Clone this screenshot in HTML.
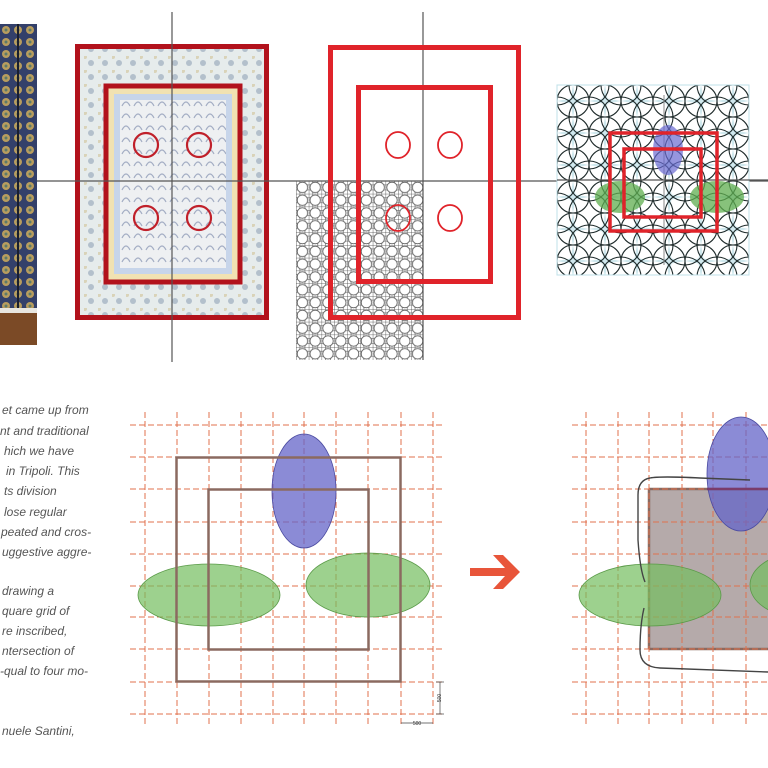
<!DOCTYPE html>
<html><head><meta charset="utf-8"><style>
html,body{margin:0;padding:0;background:#fff;width:768px;height:768px;overflow:hidden}
svg{display:block}
.t{font-family:"Liberation Sans",sans-serif;font-style:italic;font-size:12px;fill:#555}
</style></head><body>
<svg width="768" height="768" viewBox="0 0 768 768" xmlns="http://www.w3.org/2000/svg">
<defs>
<pattern id="lat" x="296" y="181" width="12.8" height="12.8" patternUnits="userSpaceOnUse">
<rect width="12.8" height="12.8" fill="#fff"/>
<path d="M0 0H12.8M0 0V12.8" stroke="#444" stroke-width="0.8"/>
<circle cx="6.4" cy="6.4" r="5.2" fill="none" stroke="#555" stroke-width="0.8"/>
<circle cx="0" cy="0" r="4" fill="none" stroke="#666" stroke-width="0.6"/>
<circle cx="12.8" cy="0" r="4" fill="none" stroke="#666" stroke-width="0.6"/>
<circle cx="0" cy="12.8" r="4" fill="none" stroke="#666" stroke-width="0.6"/>
<circle cx="12.8" cy="12.8" r="4" fill="none" stroke="#666" stroke-width="0.6"/>
</pattern>
<pattern id="circ" x="557" y="85" width="32" height="32" patternUnits="userSpaceOnUse">
<rect width="32" height="32" fill="#fff"/>
<path d="M16 0L19 16L16 32L13 16Z M0 16L16 13L32 16L16 19Z" fill="#cfe8ee"/>
<circle cx="16" cy="16" r="16" fill="none" stroke="#1e2a2a" stroke-width="1.1"/>
<circle cx="0" cy="0" r="20" fill="none" stroke="#1e2a2a" stroke-width="1.1"/>
<circle cx="32" cy="0" r="20" fill="none" stroke="#1e2a2a" stroke-width="1.1"/>
<circle cx="0" cy="32" r="20" fill="none" stroke="#1e2a2a" stroke-width="1.1"/>
<circle cx="32" cy="32" r="20" fill="none" stroke="#1e2a2a" stroke-width="1.1"/>
</pattern>
<pattern id="tile" x="0" y="0" width="14" height="14" patternUnits="userSpaceOnUse">
<rect width="14" height="14" fill="#e6ecec"/>
<circle cx="7" cy="7" r="3" fill="#b3c0cc"/>
<circle cx="1" cy="1" r="2" fill="#d9d3b8"/>
</pattern>
<pattern id="tile2" x="0" y="0" width="12" height="12" patternUnits="userSpaceOnUse">
<rect width="12" height="12" fill="#eef0f2"/>
<path d="M2 10Q6 2 10 10" fill="none" stroke="#a4aec4" stroke-width="1.2"/>
</pattern>
<pattern id="photo" x="0" y="24" width="12" height="12" patternUnits="userSpaceOnUse">
<rect width="12" height="12" fill="#33406a"/>
<circle cx="6" cy="6" r="4" fill="#b89d5e"/>
<circle cx="6" cy="6" r="1.5" fill="#5c7a6a"/>
</pattern>
</defs>

<rect x="0" y="24" width="37" height="290" fill="url(#photo)"/>
<rect x="17" y="24" width="2" height="290" fill="#1a1f2e"/>
<rect x="0" y="308" width="37" height="5" fill="#e8e6e0"/>
<rect x="0" y="313" width="37" height="32" fill="#7b4a26"/>

<rect x="75" y="44" width="194" height="276" fill="url(#tile)"/>
<rect x="77.5" y="46.5" width="189" height="271" fill="none" stroke="#b2121c" stroke-width="5"/>
<rect x="106" y="86" width="134" height="196" fill="#f1e2b2"/>
<rect x="114" y="94" width="118" height="180" fill="#c7d5ea"/>
<rect x="120" y="100" width="106" height="168" fill="url(#tile2)"/>
<rect x="106" y="86" width="134" height="196" fill="none" stroke="#b2121c" stroke-width="5"/>
<g fill="none" stroke="#c0202a" stroke-width="2.2">
<circle cx="146" cy="145" r="12"/><circle cx="199" cy="145" r="12"/>
<circle cx="146" cy="218" r="12"/><circle cx="199" cy="218" r="12"/>
</g>

<rect x="296" y="181" width="127" height="179" fill="url(#lat)"/>

<g stroke="#555" stroke-width="1.2">
<line x1="37" y1="181" x2="768" y2="181"/>
<line x1="172" y1="12" x2="172" y2="362"/>
<line x1="423" y1="12" x2="423" y2="360"/>
</g>

<rect x="330.5" y="47.5" width="188" height="270" fill="none" stroke="#e0232a" stroke-width="5"/>
<rect x="358.5" y="87.5" width="132" height="194" fill="none" stroke="#e0232a" stroke-width="5"/>
<g fill="none" stroke="#e0232a" stroke-width="1.8">
<ellipse cx="398" cy="145" rx="12" ry="13"/><ellipse cx="450" cy="145" rx="12" ry="13"/>
<ellipse cx="398" cy="218" rx="12" ry="13"/><ellipse cx="450" cy="218" rx="12" ry="13"/>
</g>

<rect x="557" y="85" width="192" height="190" fill="url(#circ)"/>
<rect x="557" y="85" width="192" height="190" fill="none" stroke="#bfe0e8" stroke-width="1"/>
<line x1="557" y1="180" x2="768" y2="180" stroke="#555" stroke-width="1.2"/>
<line x1="664" y1="95" x2="664" y2="265" stroke="#888" stroke-width="1"/>
<ellipse cx="668" cy="150" rx="15" ry="25" fill="#6a6ad0" fill-opacity="0.7"/>
<ellipse cx="620" cy="197" rx="25" ry="16" fill="#5fae4f" fill-opacity="0.75"/>
<ellipse cx="717" cy="197" rx="27" ry="16" fill="#5fae4f" fill-opacity="0.75"/>
<rect x="610" y="133" width="107" height="98" fill="none" stroke="#e0232a" stroke-width="3.5"/>
<rect x="624" y="149" width="77" height="68" fill="none" stroke="#e0232a" stroke-width="3.5"/>

<g class="t">
<text x="2" y="414">et came up from</text>
<text x="0" y="435">nt and traditional</text>
<text x="4" y="455">hich we have</text>
<text x="6" y="475">in Tripoli. This</text>
<text x="4" y="495">ts division</text>
<text x="4" y="516">lose regular</text>
<text x="1" y="536">peated and cros-</text>
<text x="2" y="556">uggestive aggre-</text>
<text x="2" y="595">drawing a</text>
<text x="2" y="615">quare grid of</text>
<text x="2" y="635">re inscribed,</text>
<text x="2" y="655">ntersection of</text>
<text x="0" y="675">-qual to four mo-</text>
<text x="2" y="735">nuele Santini,</text>
</g>

<g stroke="#e0714e" stroke-width="1" stroke-dasharray="6,3">
<line x1="130" y1="425" x2="445" y2="425"/><line x1="130" y1="457" x2="445" y2="457"/>
<line x1="130" y1="489" x2="445" y2="489"/><line x1="130" y1="522" x2="445" y2="522"/>
<line x1="130" y1="554" x2="445" y2="554"/><line x1="130" y1="586" x2="445" y2="586"/>
<line x1="130" y1="617" x2="445" y2="617"/><line x1="130" y1="649" x2="445" y2="649"/>
<line x1="130" y1="682" x2="445" y2="682"/><line x1="130" y1="714" x2="445" y2="714"/>
<line x1="145" y1="412" x2="145" y2="727"/><line x1="177" y1="412" x2="177" y2="727"/>
<line x1="209" y1="412" x2="209" y2="727"/><line x1="241" y1="412" x2="241" y2="727"/>
<line x1="273" y1="412" x2="273" y2="727"/><line x1="304" y1="412" x2="304" y2="727"/>
<line x1="336" y1="412" x2="336" y2="727"/><line x1="368" y1="412" x2="368" y2="727"/>
<line x1="401" y1="412" x2="401" y2="727"/><line x1="433" y1="412" x2="433" y2="727"/>
</g>
<ellipse cx="304" cy="491" rx="32" ry="57" fill="#6464c8" fill-opacity="0.75" stroke="#4a4aa0" stroke-width="0.8"/>
<ellipse cx="209" cy="595" rx="71" ry="31" fill="#74bd5e" fill-opacity="0.7" stroke="#5a9a48" stroke-width="0.8"/>
<ellipse cx="368" cy="585" rx="62" ry="32" fill="#74bd5e" fill-opacity="0.7" stroke="#5a9a48" stroke-width="0.8"/>
<rect x="176.5" y="457.5" width="224" height="224" fill="none" stroke="#8b6a60" stroke-width="2.5"/>
<rect x="208.5" y="489.5" width="160" height="160" fill="none" stroke="#8b6a60" stroke-width="2.5"/>
<g stroke="#444" stroke-width="0.7" fill="none">
<line x1="440" y1="682" x2="440" y2="714"/><line x1="436" y1="682" x2="444" y2="682"/><line x1="436" y1="714" x2="444" y2="714"/>
<line x1="401" y1="723" x2="433" y2="723"/>
</g>
<text x="441" y="698" font-family="Liberation Sans" font-size="5" fill="#333" transform="rotate(-90 441 698)" text-anchor="middle">500</text>
<text x="417" y="725" font-family="Liberation Sans" font-size="5" fill="#333" text-anchor="middle">500</text>

<path d="M470 568H505L493 555H503L520 572L503 589H493L505 576H470Z" fill="#e8553a"/>

<rect x="649" y="489" width="119" height="160" fill="#b5aaaa"/>
<line x1="649" y1="489" x2="768" y2="489" stroke="#8b6a60" stroke-width="2.5"/>
<line x1="649" y1="489" x2="649" y2="649" stroke="#8b6a60" stroke-width="2.5"/>
<line x1="649" y1="649" x2="768" y2="649" stroke="#8b6a60" stroke-width="2.5"/>
<g stroke="#e0714e" stroke-width="1" stroke-dasharray="6,3">
<line x1="572" y1="425" x2="768" y2="425"/><line x1="572" y1="457" x2="768" y2="457"/>
<line x1="572" y1="489" x2="768" y2="489"/><line x1="572" y1="522" x2="768" y2="522"/>
<line x1="572" y1="554" x2="768" y2="554"/><line x1="572" y1="586" x2="768" y2="586"/>
<line x1="572" y1="617" x2="768" y2="617"/><line x1="572" y1="649" x2="768" y2="649"/>
<line x1="572" y1="682" x2="768" y2="682"/><line x1="572" y1="714" x2="768" y2="714"/>
<line x1="586" y1="412" x2="586" y2="727"/><line x1="618" y1="412" x2="618" y2="727"/>
<line x1="649" y1="412" x2="649" y2="727"/><line x1="682" y1="412" x2="682" y2="727"/>
<line x1="713" y1="412" x2="713" y2="727"/><line x1="746" y1="412" x2="746" y2="727"/>
</g>
<ellipse cx="741" cy="474" rx="34" ry="57" fill="#6464c8" fill-opacity="0.75" stroke="#4a4aa0" stroke-width="0.8"/>
<line x1="707" y1="489" x2="768" y2="489" stroke="#7a3c6a" stroke-width="2.5"/>
<ellipse cx="650" cy="595" rx="71" ry="31" fill="#74bd5e" fill-opacity="0.7" stroke="#5a9a48" stroke-width="0.8"/>
<ellipse cx="800" cy="585" rx="50" ry="32" fill="#74bd5e" fill-opacity="0.7" stroke="#5a9a48" stroke-width="0.8"/>
<g fill="none" stroke="#444" stroke-width="1.4">
<path d="M750 480L700 478Q660 476 650 478Q638 480 638 495L638 540Q640 570 645 582"/>
<path d="M644 608Q640 625 640 650Q640 667 660 668L768 672"/>
</g>
</svg>
</body></html>
